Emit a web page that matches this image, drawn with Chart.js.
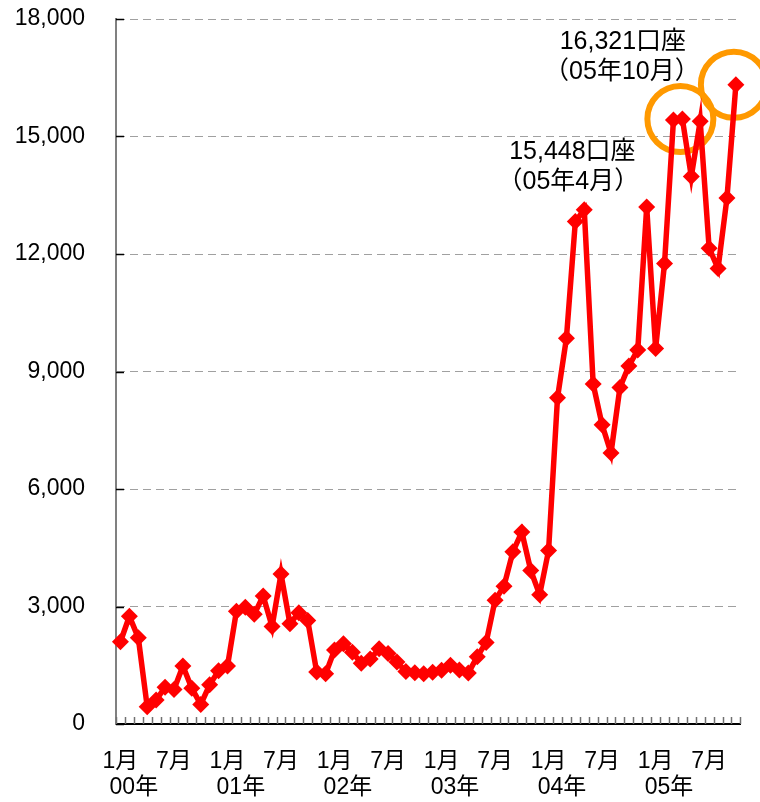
<!DOCTYPE html>
<html>
<head>
<meta charset="utf-8">
<script src="https://cdn.jsdelivr.net/npm/chart.js@4"></script>
<style>
  html, body { margin: 0; padding: 0; background: #fff; }
  #wrap { width: 760px; height: 802px; }
</style>
</head>
<body>
<div id="wrap"><canvas id="accountChart"></canvas></div>
<script>
// monthly account counts, Jan 2000 - Oct 2005
const years = ['00', '01', '02', '03', '04', '05'];
const monthsInLastYear = 10;
const accounts = [
    2100, 2750, 2200, 440, 610, 940, 880, 1480, 910, 500, 1000, 1360,
    1480, 2880, 2980, 2800, 3270, 2490, 3830, 2560, 2840, 2640, 1330, 1280,
    1890, 2050, 1830, 1550, 1660, 1920, 1800, 1580, 1340, 1310, 1280, 1320,
    1370, 1500, 1380, 1300, 1720, 2080, 3160, 3520, 4400, 4900, 3920, 3300,
    4430, 8330, 9850, 12830, 13130, 8680, 7640, 6920, 8590, 9140, 9550, 13200,
    9590, 11760, 15420, 15448, 13980, 15390, 12150, 11630, 13430, 16321
];
const yMax = 18000;
const yStep = 3000;
const callouts = [
    { index: 63, lines: ['15,448口座', '（05年4月）'] },
    { index: 69, lines: ['16,321口座', '（05年10月）'] }
];

const labels = [];
years.forEach((y, i) => {
    const n = i === years.length - 1 ? monthsInLastYear : 12;
    for (let m = 1; m <= n; m++) labels.push(y + '/' + m);
});

const FONT = '"Liberation Sans", "Noto Sans CJK JP", sans-serif';

const extras = {
    id: 'extras',
    beforeDatasetsDraw(chart) {
        const { ctx, chartArea, scales: { x, y } } = chart;
        ctx.save();
        // inner tick marks on the value axis
        ctx.strokeStyle = '#000';
        ctx.lineWidth = 1.5;
        for (let v = 0; v <= yMax; v += yStep) {
            const py = Math.round(y.getPixelForValue(v)) + 0.5;
            ctx.beginPath();
            ctx.moveTo(chartArea.left, py);
            ctx.lineTo(chartArea.left + 8, py);
            ctx.stroke();
        }
        // inner tick marks between months
        ctx.strokeStyle = '#707070';
        for (let i = 0; i <= labels.length; i++) {
            const px = Math.round(x.getPixelForValue(i - 0.5)) + 0.5;
            ctx.beginPath();
            ctx.moveTo(px, chartArea.bottom);
            ctx.lineTo(px, chartArea.bottom - 7);
            ctx.stroke();
        }
        // highlight rings around the two peaks
        ctx.strokeStyle = '#FF9900';
        ctx.lineWidth = 6;
        callouts.forEach(c => {
            const px = x.getPixelForValue(c.index);
            const py = y.getPixelForValue(accounts[c.index]);
            ctx.beginPath();
            ctx.arc(px - 2, py, 33, 0, Math.PI * 2);
            ctx.stroke();
        });
        ctx.restore();
    },
    afterDraw(chart) {
        const { ctx, chartArea, scales: { x, y } } = chart;
        ctx.save();
        ctx.fillStyle = '#000';
        ctx.textAlign = 'center';
        ctx.textBaseline = 'middle';
        // year labels under the month labels
        ctx.font = '23px ' + FONT;
        years.forEach((yr, i) => {
            const px = x.getPixelForValue(i * 12 + 1.5);
            ctx.fillText(yr + '年', px, chartArea.bottom + 64);
        });
        // peak callouts
        ctx.font = '25px ' + FONT;
        const [apr, oct] = callouts;
        let px = x.getPixelForValue(apr.index);
        let py = y.getPixelForValue(accounts[apr.index]);
        ctx.fillText(apr.lines[0], px - 110, py + 33);
        ctx.fillText(apr.lines[1], px - 114, py + 63);
        px = x.getPixelForValue(oct.index);
        py = y.getPixelForValue(accounts[oct.index]);
        ctx.fillText(oct.lines[0], px - 113, py - 43);
        ctx.fillText(oct.lines[1], px - 114, py - 13);
        ctx.restore();
    }
};

new Chart(document.getElementById('accountChart'), {
    type: 'line',
    data: {
        labels: labels,
        datasets: [{
            data: accounts,
            borderColor: '#FF0000',
            backgroundColor: '#FF0000',
            borderWidth: 5.5,
            pointStyle: 'rectRot',
            pointRadius: 8.5,
            pointBorderWidth: 0,
            tension: 0
        }]
    },
    options: {
        responsive: true,
        maintainAspectRatio: false,
        animation: false,
        layout: { padding: { top: 19, right: 16, left: 0, bottom: 0 } },
        plugins: {
            legend: { display: false },
            tooltip: { enabled: false }
        },
        scales: {
            x: {
                type: 'category',
                offset: true,
                afterFit(scale) { scale.height = 78; },
                grid: { display: false, drawTicks: false },
                border: { display: true, color: '#000', width: 2 },
                ticks: {
                    autoSkip: false,
                    maxRotation: 0,
                    padding: 24,
                    color: '#000',
                    font: { family: FONT, size: 23 },
                    callback(value, index) {
                        const m = index % 12;
                        return m === 0 ? '1月' : m === 6 ? '7月' : '';
                    }
                }
            },
            y: {
                min: 0,
                max: yMax,
                afterFit(scale) {
                    scale.width = 116;
                    scale.paddingTop = 0;
                    scale.paddingBottom = 0;
                },
                grid: {
                    drawTicks: false,
                    color: ctx => ctx.tick && ctx.tick.value === 0 ? 'rgba(0,0,0,0)' : '#A0A0A0',
                    lineWidth: 1
                },
                border: { display: true, color: '#808080', width: 2, dash: [8, 5] },
                ticks: {
                    stepSize: yStep,
                    padding: 31,
                    color: '#000',
                    font: { family: FONT, size: 23 },
                    callback: v => v.toLocaleString('en-US')
                }
            }
        }
    },
    plugins: [extras]
});
</script>
</body>
</html>
